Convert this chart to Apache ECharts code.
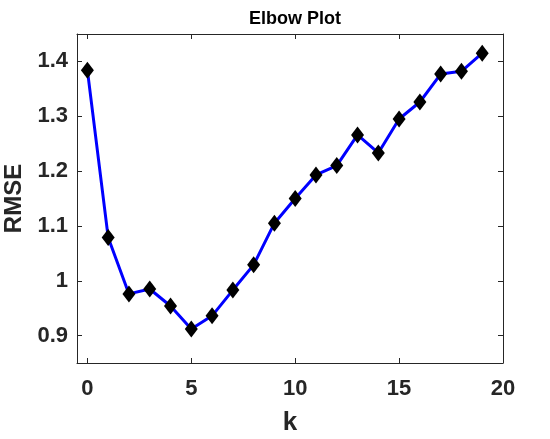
<!DOCTYPE html>
<html>
<head>
<meta charset="utf-8">
<script src="https://cdn.jsdelivr.net/npm/echarts@6/dist/echarts.min.js"></script>
<style>html,body{margin:0;padding:0;background:#fff}#c{width:550px;height:439px}</style>
</head>
<body>
<div id="c"></div>
<script>
var kValues = [0,1,2,3,4,5,6,7,8,9,10,11,12,13,14,15,16,17,18,19];
var rmseValues = [1.384,1.079,0.976,0.985,0.954,0.912,0.936,0.983,1.029,1.105,1.150,1.193,1.210,1.266,1.233,1.295,1.326,1.377,1.382,1.415];
var xTicks = [0,5,10,15,20];
var yTicks = [0.9,1,1.1,1.2,1.3,1.4];

var FONT = 'Liberation Sans';
var AXC = '#262626';
var chart = echarts.init(document.getElementById('c'), null, {renderer:'canvas'});
var data = kValues.map(function(k,i){return [k, rmseValues[i]];});
function xAx(pos, show){
  return {
    type:'value', position:pos, min:-0.5, max:20,
    name: show ? 'k' : '', nameLocation:'middle', nameGap:47,
    nameTextStyle:{fontFamily:FONT,fontWeight:'bold',fontSize:26,color:AXC},
    axisLine:{show:true,onZero:false,lineStyle:{color:AXC,width:1}},
    axisTick:{show:true,inside:true,length:5,customValues:xTicks,lineStyle:{color:AXC}},
    axisLabel:{show:show,customValues:xTicks,margin:15,fontFamily:FONT,fontWeight:'bold',fontSize:22,color:AXC},
    splitLine:{show:false}
  };
}
function yAx(pos, show){
  return {
    type:'value', position:pos, min:0.85, max:1.45,
    name: show ? 'RMSE' : '', nameLocation:'middle', nameGap:47, nameRotate:90,
    nameTextStyle:{fontFamily:FONT,fontWeight:'bold',fontSize:24,color:AXC},
    axisLine:{show:true,onZero:false,lineStyle:{color:AXC,width:1}},
    axisTick:{show:true,inside:true,length:5,customValues:yTicks,lineStyle:{color:AXC}},
    axisLabel:{show:show,customValues:yTicks,margin:9,fontFamily:FONT,fontWeight:'bold',fontSize:22,color:AXC},
    splitLine:{show:false}
  };
}
chart.setOption({
  animation:false,
  backgroundColor:'#fff',
  title:{text:'Elbow Plot',left:290,textAlign:'center',top:5,
    textStyle:{fontFamily:FONT,fontWeight:'bold',fontSize:18,color:'#000'}},
  grid:{left:77,right:47,top:34,bottom:76,containLabel:false,outerBoundsMode:'none'},
  xAxis:[xAx('bottom',true), xAx('top',false)],
  yAxis:[yAx('left',true), yAx('right',false)],
  series:[{
    type:'line', data:data, xAxisIndex:0, yAxisIndex:0,
    symbol:'diamond', symbolSize:[13,17],
    lineStyle:{color:'#0000ff',width:3},
    itemStyle:{color:'#000'},
    z:3
  }]
});
</script>
</body>
</html>
